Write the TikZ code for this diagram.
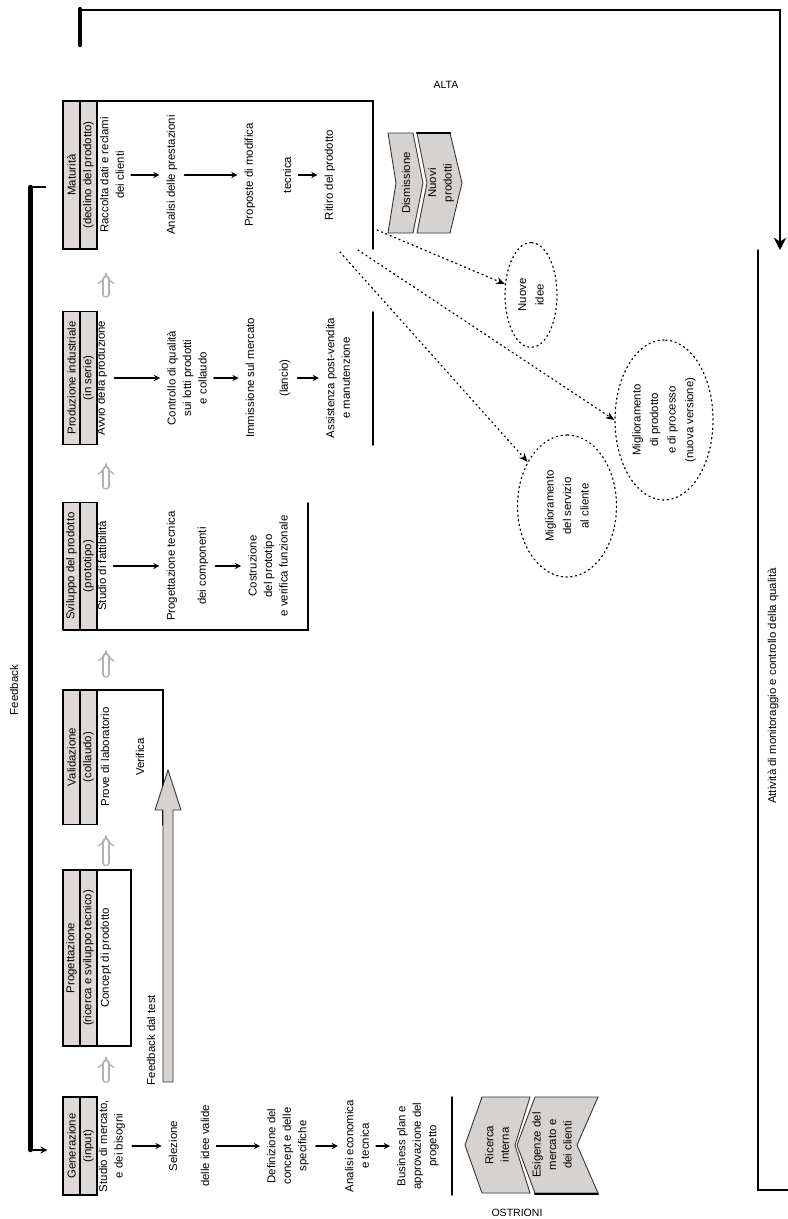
\documentclass[tikz,border=0pt]{standalone}
\usepackage{fontspec}
\setmainfont{Liberation Sans}
\usetikzlibrary{arrows.meta,shapes.geometric,calc}
\definecolor{hdrgray}{RGB}{222,217,215}
\definecolor{chevgray}{RGB}{214,210,208}

\begin{document}
\begin{tikzpicture}[x=0.2mm,y=-0.2mm,line cap=round,
  lbl/.style={rotate=90,font=\fontsize{6.5}{8.8}\selectfont,align=center,inner sep=0.5pt},
  hdr/.style={lbl,fill=hdrgray,draw,line width=0.6pt,minimum height=3.4mm,inner sep=0pt},
  itemarr/.style={-{Stealth[length=3.5pt,width=3.5pt]},line width=0.9pt,shorten <=1.2mm,shorten >=1.2mm},
  uparr/.style={draw=gray!60,double=white,double distance=2.6pt,line width=0.8pt,-{Implies}},
  dotarr/.style={dotted,line width=0.7pt,-{Stealth[length=5pt,width=4pt]}},
  bubble/.style={lbl,ellipse,draw,dotted,line width=0.7pt,inner sep=0pt,font=\fontsize{6.5}{10}\selectfont},
  chev/.style={fill=chevgray,draw=gray!40!black,line width=0.5pt},
  boxline/.style={line width=1pt}]
\useasboundingbox (0,0) rectangle (788,1219);

\node[hdr,minimum width=29.6mm] (h6a) at (71.5,175) {Maturità};
\node[hdr,minimum width=29.6mm] (h6b) at (88.5,175) {(declino del prodotto)};
\draw[boxline] (63,101) -- (373,101) -- (373,249);
\node[lbl] (b6a) at (112,175) {Raccolta dati e reclami\\dei clienti};
\node[lbl] (b6b) at (172,175) {Analisi delle prestazioni};
\node[lbl] (b6c) at (250,175) {Proposte di modifica};
\node[lbl] (b6d) at (287,175) {tecnica};
\node[lbl] (b6e) at (330,175) {Ritiro del prodotto};
\draw[itemarr] (b6a.south) -- (b6b.north);
\draw[itemarr] (b6b.south) -- (b6c.north);
\draw[itemarr] (b6d.south) -- (b6e.north);

\node[hdr,minimum width=26.6mm] (h5a) at (71.5,378) {Produzione industriale};
\node[hdr,minimum width=26.6mm] (h5b) at (88.5,378) {(in serie)};
\draw[boxline] (373,312) -- (373,445);
\node[lbl] (b5a) at (102,378) {Avvio della produzione};
\node[lbl] (b5b) at (187,378) {Controllo di qualità\\sui lotti prodotti\\e collaudo};
\node[lbl] (b5c) at (250,378) {Immissione sul mercato};
\node[lbl] (b5d) at (285,378) {(lancio)};
\node[lbl] (b5e) at (338,378) {Assistenza post-vendita\\e manutenzione};
\draw[itemarr] (b5a.south) -- (b5b.north);
\draw[itemarr] (b5b.south) -- (b5c.north);
\draw[itemarr] (b5d.south) -- (b5e.north);

\node[hdr,minimum width=25.4mm] (h4a) at (71.5,566) {Sviluppo del prodotto};
\node[hdr,minimum width=25.4mm] (h4b) at (88.5,566) {(prototipo)};
\draw[boxline] (308,503) -- (308,630) -- (63,630);
\node[lbl] (b4a) at (102,566) {Studio di fattibilità};
\node[lbl] (b4b) at (172,566) {Progettazione tecnica};
\node[lbl] (b4c) at (203,566) {dei componenti};
\node[lbl] (b4d) at (268,566) {Costruzione\\del prototipo\\e verifica funzionale};
\draw[itemarr] (b4a.south) -- (b4b.north);
\draw[itemarr] (b4c.south) -- (b4d.north);

\node[hdr,minimum width=27mm] (h3a) at (71.5,757) {Validazione};
\node[hdr,minimum width=27mm] (h3b) at (88.5,757) {(collaudo)};
\draw[boxline] (63,690) -- (163,690) -- (163,825);
\node[lbl] (b3a) at (105,757) {Prove di laboratorio};
\node[lbl] (b3b) at (140,757) {Verifica};

\node[hdr,minimum width=35.2mm] (h2a) at (71.5,958) {Progettazione};
\node[hdr,minimum width=35.2mm] (h2b) at (88.5,958) {(ricerca e sviluppo tecnico)};
\draw[boxline] (63,870) rectangle (131,1046);
\node[lbl] (b2a) at (106,958) {Concept di prodotto};

\node[hdr,minimum width=19.6mm] (h1a) at (71.5,1146) {Generazione};
\node[hdr,minimum width=19.6mm] (h1b) at (88.5,1146) {(input)};
\node[lbl] (b1a) at (112,1146) {Studio di mercato,\\e dei bisogni};
\node[lbl] (b1b) at (173,1146) {Selezione};
\node[lbl] (b1c) at (205,1146) {delle idee valide};
\node[lbl] (b1d) at (288,1146) {Definizione del\\concept e delle\\specifiche};
\node[lbl] (b1e) at (357,1146) {Analisi economica\\e tecnica};
\node[lbl] (b1f) at (418,1146) {Business plan e\\approvazione del\\progetto};
\draw[itemarr] (b1a.south) -- (b1b.north);
\draw[itemarr] (b1c.south) -- (b1d.north);
\draw[itemarr] (b1d.south) -- (b1e.north);
\draw[itemarr] (b1e.south) -- (b1f.north);
\draw[line width=0.8pt] (452,1097) -- (452,1195);

\draw[uparr] ($(h1b.east)+(17.5,-17)$) -- ($(h2b.west)+(17.5,10)$);
\draw[uparr] ($(h2b.east)+(17.5,-7)$) -- ($(h3b.west)+(17.5,10)$);
\draw[uparr] ($(h3b.east)+(17.5,-15)$) -- ($(h4b.west)+(17.5,20)$);
\draw[uparr] ($(h4b.east)+(17.5,-16)$) -- ($(h5b.west)+(17.5,18)$);
\draw[uparr] ($(h5b.east)+(17.5,-17)$) -- ($(h6b.west)+(17.5,23)$);

\filldraw[chev] (163,1082) -- (163,810) -- (155,810) -- (168,770) -- (181,810) -- (173,810) -- (173,1082) -- cycle;
\node[lbl] (fbl) at (151,1040) {Feedback dal test};

\coordinate (fbA) at ($(h6a.north)+(-32,12)$);
\coordinate (fbB) at ($(h1a.north)+(-32,4)$);
\draw[line width=2.5pt] (fbA) -- (fbB);
\draw[line width=0.8pt] (fbA) -- ++(15,0);
\draw[line width=0.8pt,-{Stealth[length=4pt,width=4pt]}] (fbB) -- ++(17,0);
\node[lbl] (fbt) at (14,690) {Feedback};

\coordinate (rbTop) at (780,250);
\draw[line width=2.5pt] (80,45) -- (80,9);
\draw[line width=0.9pt,-{Stealth[length=7pt,width=7pt]}] (80,10) -- (780,10) -- (rbTop);
\draw[line width=0.8pt] (758,250) -- (758,1190) -- (788,1190);
\node[lbl] (rbt) at (773,686) {Attività di monitoraggio e controllo della qualità};
\node[font=\fontsize{6}{7}\selectfont] (alta) at (446,85) {ALTA};
\node[font=\fontsize{6}{7}\selectfont] (ostr) at (517,1213) {OSTRIONI};

\filldraw[chev] (388,133) -- (396,183) -- (388,233) -- (413,233) -- (423,183) -- (413,133) -- cycle;
\filldraw[chev] (417,133) -- (427,183) -- (417,233) -- (450,233) -- (462,183) -- (450,133) -- cycle;
\draw[line width=1.5pt] (417,133) -- (450,133);
\node[lbl] (cv1) at (406,183) {Dismissione};
\node[lbl] (cv2) at (441,183) {Nuovi\\prodotti};

\filldraw[chev] (482,1097) -- (465,1145) -- (482,1193) -- (530,1193) -- (515,1145) -- (530,1097) -- cycle;
\filldraw[chev] (535,1097) -- (517,1145) -- (535,1193) -- (598,1193) -- (577,1145) -- (598,1097) -- cycle;
\draw[line width=1.5pt] (535,1194) -- (598,1194);
\node[lbl] (cv3) at (497,1145) {Ricerca\\interna};
\node[lbl] (cv4) at (552,1145) {Esigenze del\\mercato e\\dei clienti};

\node[bubble,minimum width=21mm,minimum height=10.4mm] (ellA) at (531,295) {Nuove\\idee};
\node[bubble,minimum width=32mm,minimum height=19.6mm] (ellB) at (664,420) {Miglioramento\\di prodotto\\e di processo\\(nuova versione)};
\node[bubble,minimum width=28.4mm,minimum height=19.8mm] (ellC) at (567,506) {Miglioramento\\del servizio\\al cliente};
\coordinate (s1) at (377,230);
\coordinate (s2) at (358,250);
\coordinate (s3) at (340,252);
\draw[dotarr] (s1) -- (ellA);
\draw[dotarr] (s2) -- (ellB.north);
\draw[dotarr] (s3) -- (ellC);
\end{tikzpicture}
\end{document}
